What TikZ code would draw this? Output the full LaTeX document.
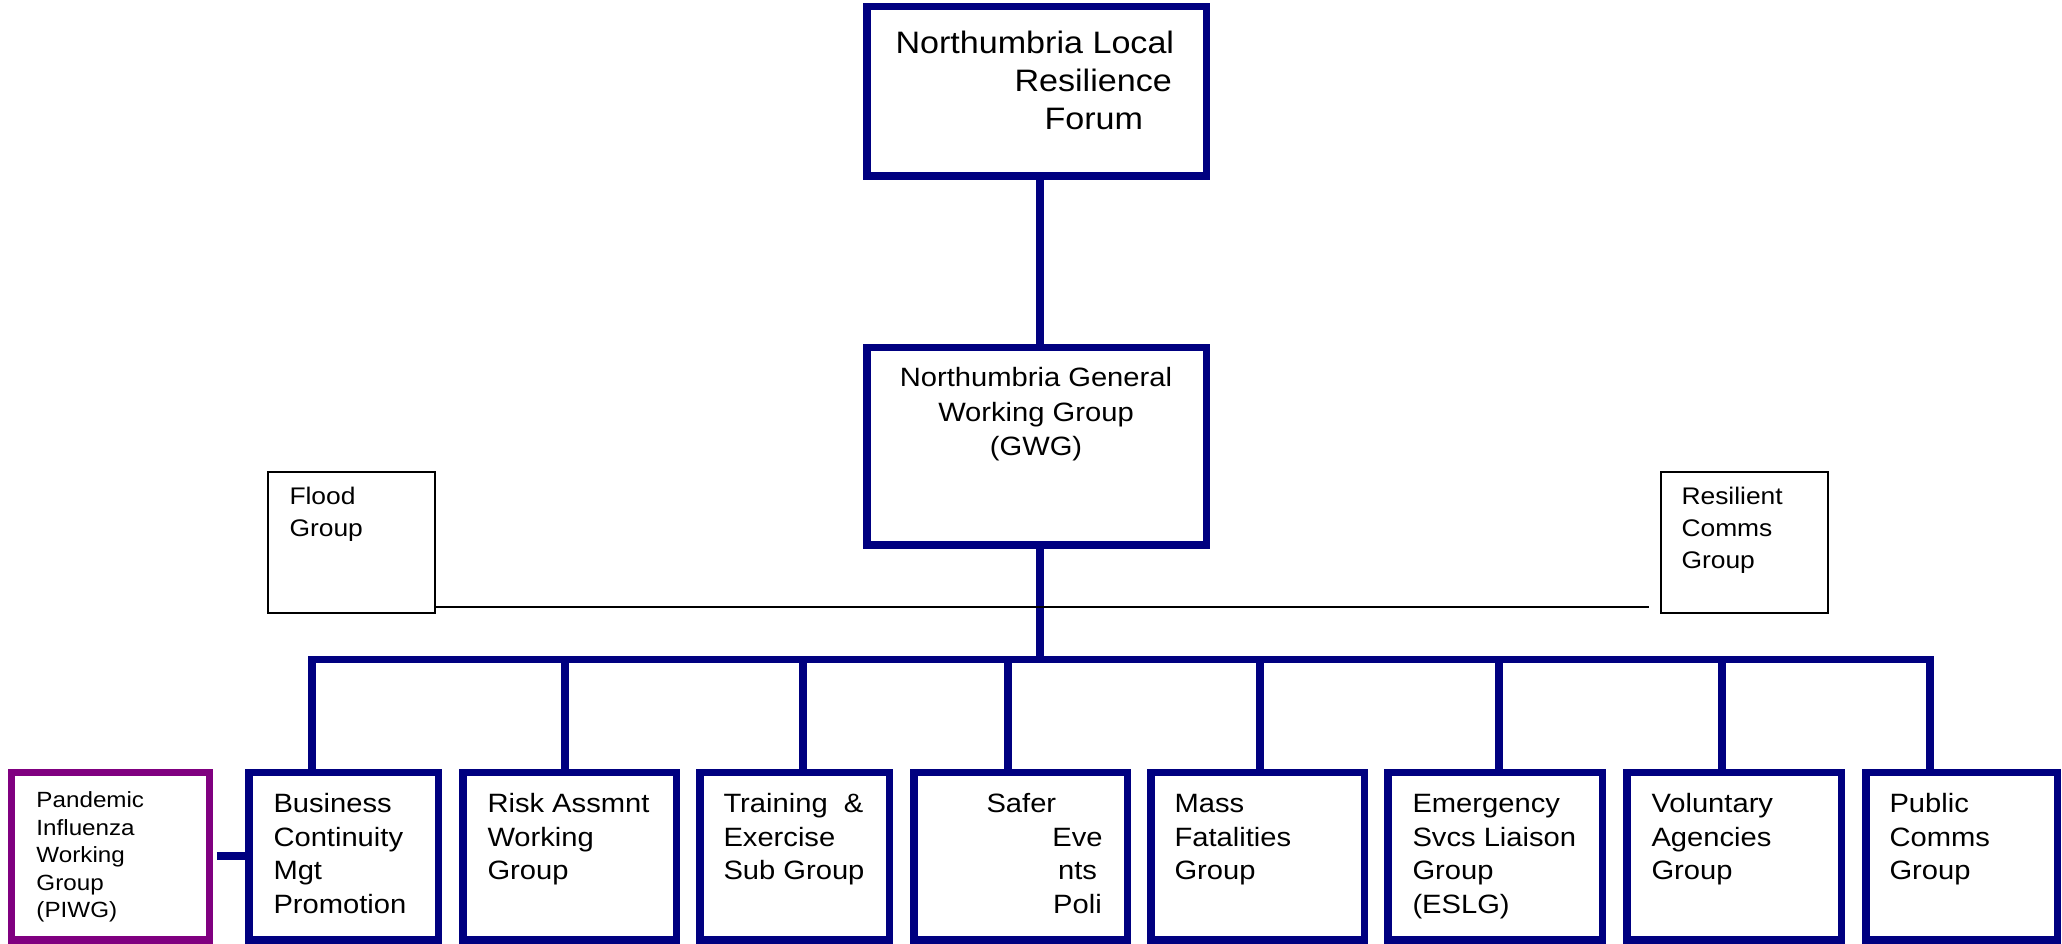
\documentclass[tikz,border=0pt]{standalone}
\usepackage{fontspec}
\setmainfont{Liberation Sans}[FakeStretch=1.1]
\definecolor{navyc}{RGB}{0,0,128}
\definecolor{purp}{RGB}{128,0,128}
\newlength\px \setlength\px{0.4pt}
\newcommand\mlines[2][l]{\begin{tabular}[t]{@{}#1@{}}#2\end{tabular}}
\begin{document}
\begin{tikzpicture}[x=0.4pt,y=-0.4pt,
  bigbox/.style={draw=navyc,line width=3pt,inner sep=0pt},
  botbox/.style={bigbox,minimum height=67pt},
  smallbox/.style={draw=black,line width=0.8pt,inner sep=0pt,minimum width=66.8pt,minimum height=56.4pt},
  conn/.style={draw=navyc,line width=2.9pt},
  thinline/.style={draw=black,line width=0.6pt},
  txt/.style={inner sep=0pt,anchor=base west,font=\fontsize{10.6pt}{13.4pt}\selectfont},
]
\useasboundingbox (0,0) rectangle (2062,944);

% main boxes
\node[bigbox,minimum width=135.8pt,minimum height=67.8pt] (lrf) at (1036.5,91.5) {};
\node[bigbox,minimum width=135.8pt,minimum height=79pt] (gwg) at (1036.5,446.5) {};
\node[smallbox] (flood) at (351.5,542.5) {};
\node[smallbox] (rcg) at (1744.5,542.5) {};

% bottom boxes
\node[botbox,draw=purp,minimum width=79pt] (piwg) at (110.5,856.5) {};
\node[botbox,minimum width=75.8pt] (bc) at (343.5,856.5) {};
\node[botbox,minimum width=85.4pt] (ra) at (569.5,856.5) {};
\node[botbox,minimum width=75.8pt] (te) at (794.5,856.5) {};
\node[botbox,minimum width=85.4pt] (se) at (1020.5,856.5) {};
\node[botbox,minimum width=85.4pt] (mf) at (1257.5,856.5) {};
\node[botbox,minimum width=85.8pt] (es) at (1495,856.5) {};
\node[botbox,minimum width=85.8pt] (va) at (1734,856.5) {};
\node[botbox,minimum width=76.6pt] (pc) at (1961.5,856.5) {};

% connector coordinates
\coordinate (tk) at (1040,0);
\coordinate (b0) at (1040,659.5);
\coordinate (d1) at (312,659.5);
\coordinate (d2) at (565,659.5);
\coordinate (d3) at (803,659.5);
\coordinate (d4) at (1008,659.5);
\coordinate (d5) at (1260,659.5);
\coordinate (d6) at (1499,659.5);
\coordinate (d7) at (1722,659.5);
\coordinate (d8) at (1930,659.5);
\coordinate (fr) at (1649,607);

% connectors
\draw[conn] (lrf.south -| tk) -- (gwg.north -| tk);
\draw[conn] (gwg.south -| b0) -- (b0);
\draw[conn,line join=miter] (d1 |- bc.north) -- (d1) -- (d8) -- (d8 |- pc.north);
\draw[conn] (d2) -- (d2 |- ra.north);
\draw[conn] (d3) -- (d3 |- te.north);
\draw[conn] (d4) -- (d4 |- se.north);
\draw[conn] (d5) -- (d5 |- mf.north);
\draw[conn] (d6) -- (d6 |- es.north);
\draw[conn] (d7) -- (d7 |- va.north);
\draw[conn,line width=3.2pt] ([xshift=1.5pt]piwg.east) -- (bc.west);
\draw[thinline] (flood.east |- fr) -- (fr);

% texts
\node[txt,font=\fontsize{12.4pt}{15.2pt}\selectfont] (lrft) at (895,54)
  {\mlines{Northumbria Local\\\hspace*{119\px}Resilience\\\hspace*{149\px}Forum}};
\node[txt,anchor=base,font=\fontsize{10.6pt}{13.8pt}\selectfont] (gwgt) at (1036,387)
  {\mlines[c]{Northumbria General\\Working Group\\(GWG)}};
\node[txt,font=\fontsize{9.6pt}{12.8pt}\selectfont] (floodt) at (289,505) {\mlines{Flood\\Group}};
\node[txt,font=\fontsize{9.6pt}{12.8pt}\selectfont] (rcgt) at (1681,505) {\mlines{Resilient\\Comms\\Group}};
\node[txt,font=\fontsize{8.8pt}{11pt}\selectfont] (piwgt) at (36,808)
  {\mlines{Pandemic\\Influenza\\Working\\Group\\(PIWG)}};
\node[txt] (bct) at (273,813) {\mlines{Business\\Continuity\\Mgt\\Promotion}};
\node[txt] (rat) at (487,813) {\mlines{Risk Assmnt\\Working\\Group}};
\node[txt] (tet) at (723,813) {\mlines{Training\ \ \&\\Exercise\\Sub Group}};
\node[txt] (set) at (986,813)
  {\mlines{Safer\\\hspace*{91\px}\makebox[0pt]{Eve}\\\hspace*{91\px}\makebox[0pt]{nts}\\\hspace*{91\px}\makebox[0pt]{Poli}}};
\node[txt] (mft) at (1174,813) {\mlines{Mass\\Fatalities\\Group}};
\node[txt] (est) at (1412,813) {\mlines{Emergency\\Svcs Liaison\\Group\\(ESLG)}};
\node[txt] (vat) at (1651,813) {\mlines{Voluntary\\Agencies\\Group}};
\node[txt] (pct) at (1889,813) {\mlines{Public\\Comms\\Group}};
\end{tikzpicture}
\end{document}
